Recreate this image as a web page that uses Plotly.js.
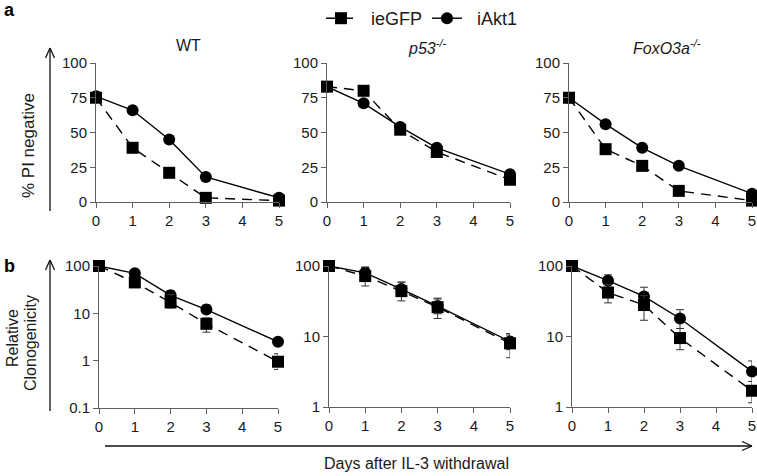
<!DOCTYPE html>
<html>
<head>
<meta charset="utf-8">
<script src="https://cdn.plot.ly/plotly-3.0.1.min.js"></script>
<style>html,body{margin:0;padding:0;background:#fff;}#chart{width:757px;height:476px;}</style>
</head>
<body>
<div id="chart"></div>
<script>
// ---------- data ----------
const days = [0, 1, 2, 3, 4, 5];
const daysObs = [0, 1, 2, 3, 5];
const xTickLabels = ['0', '1', '2', '3', '4', '5'];
const seriesNames = ['ieGFP', 'iAkt1'];
const panelTitles = ['WT', '<i>p53</i><sup><i>-/-</i></sup>', '<i>FoxO3a</i><sup><i>-/-</i></sup>'];

// (a) % PI negative
const piWT_ieGFP = [75, 39, 21, 3, 1];
const piWT_iAkt1 = [76, 66, 45, 18, 3];
const piP53_ieGFP = [83, 80, 52, 36, 16];
const piP53_iAkt1 = [83, 71, 54, 39, 20];
const piFox_ieGFP = [75, 38, 26, 8, 1];
const piFox_iAkt1 = [75, 56, 39, 26, 6];

// (b) Relative clonogenicity (with asymmetric error bars)
const clWT_ieGFP = [100, 45, 17, 6, 0.95];
const clWT_ieGFP_up = [0, 10, 8, 2, 0.45];
const clWT_ieGFP_dn = [0, 10, 4, 2, 0.3];
const clWT_iAkt1 = [100, 70, 24, 12, 2.5];
const clWT_iAkt1_up = [0, 10, 6, 3, 0.3];
const clWT_iAkt1_dn = [0, 10, 5, 2, 0.3];

const clP53_ieGFP = [100, 72, 44, 26, 8];
const clP53_ieGFP_up = [0, 25, 15, 9, 3];
const clP53_ieGFP_dn = [0, 20, 12, 8, 3];
const clP53_iAkt1 = [100, 80, 47, 27, 8.5];
const clP53_iAkt1_up = [0, 15, 12, 7, 2];
const clP53_iAkt1_dn = [0, 15, 10, 6, 2];

const clFox_ieGFP = [100, 42, 28, 9.5, 1.7];
const clFox_ieGFP_up = [0, 13, 10, 3.5, 0.6];
const clFox_ieGFP_dn = [0, 12, 11, 3, 0.55];
const clFox_iAkt1 = [100, 62, 37, 18, 3.2];
const clFox_iAkt1_up = [0, 13, 13, 6, 1.3];
const clFox_iAkt1_dn = [0, 12, 7, 5, 0.9];

const piTicks = [0, 25, 50, 75, 100];
const clTicksWT = [0.1, 1, 10, 100];
const clTicks = [1, 10, 100];

// ---------- layout helpers ----------
const W = 757, H = 476;
const px = x => x / W;
const py = y => 1 - y / H;
const FONT = 'Liberation Sans, Arial, sans-serif';
const AX = '#606060';
const TXT = '#1a1a1a';
const TICKF = {family: FONT, size: 15, color: TXT};
const NB = '\u00a0\u00a0';

const traces = [];
function addPair(xa, ya, g, a, errs, legend) {
  const mk = (yv, name, sym, dash, e) => {
    const t = {
      x: daysObs, y: yv, name: NB + name, xaxis: xa, yaxis: ya,
      type: 'scatter', mode: 'lines+markers', cliponaxis: false,
      line: {color: '#000', width: 1.4, dash: dash},
      marker: {symbol: sym, size: 12, color: '#000'},
      showlegend: legend, legendgroup: name
    };
    if (e) t.error_y = {type: 'data', symmetric: false, array: e[0], arrayminus: e[1], color: '#333', thickness: 1, width: 4};
    return t;
  };
  traces.push(mk(a, seriesNames[1], 'circle', 'solid', errs ? errs[1] : null));
  traces.push(mk(g, seriesNames[0], 'square', '10px,7px', errs ? errs[0] : null));
}
addPair('x', 'y', piWT_ieGFP, piWT_iAkt1, null, true);
addPair('x2', 'y2', piP53_ieGFP, piP53_iAkt1, null, false);
addPair('x3', 'y3', piFox_ieGFP, piFox_iAkt1, null, false);
addPair('x4', 'y4', clWT_ieGFP, clWT_iAkt1, [[clWT_ieGFP_up, clWT_ieGFP_dn], [clWT_iAkt1_up, clWT_iAkt1_dn]], false);
addPair('x5', 'y5', clP53_ieGFP, clP53_iAkt1, [[clP53_ieGFP_up, clP53_ieGFP_dn], [clP53_iAkt1_up, clP53_iAkt1_dn]], false);
addPair('x6', 'y6', clFox_ieGFP, clFox_iAkt1, [[clFox_ieGFP_up, clFox_ieGFP_dn], [clFox_iAkt1_up, clFox_iAkt1_dn]], false);

function xax(x0, x5, anchor) {
  return {domain: [px(x0), px(x5)], range: [0, 5], anchor: anchor, showgrid: false, zeroline: false,
    showline: true, linecolor: AX, linewidth: 1, ticks: 'outside', ticklen: 5, tickcolor: AX,
    tickvals: days, ticktext: xTickLabels, tickfont: TICKF, fixedrange: true};
}
function yaxLin(ytop, ybot, anchor) {
  return {domain: [py(ybot), py(ytop)], range: [0, 100], anchor: anchor, showgrid: false, zeroline: false,
    showline: true, linecolor: AX, linewidth: 1, ticks: 'outside', ticklen: 5, tickcolor: AX,
    tickvals: piTicks, ticktext: piTicks.map(String), tickfont: TICKF, fixedrange: true};
}
function yaxLog(ytop, ybot, anchor, tv) {
  return {domain: [py(ybot), py(ytop)], type: 'log', range: [Math.log10(tv[0]), 2], anchor: anchor, showgrid: false, zeroline: false,
    showline: true, linecolor: AX, linewidth: 1, ticks: 'outside', ticklen: 5, tickcolor: AX,
    tickvals: tv, ticktext: tv.map(String), tickfont: TICKF, fixedrange: true};
}

function seg(x0, y0, x1, y1, w) {
  return {type: 'line', xref: 'paper', yref: 'paper', x0: px(x0), y0: py(y0), x1: px(x1), y1: py(y1),
    line: {color: '#111', width: w || 1.3}};
}
const shapes = [
  seg(50, 211, 50, 48), seg(50, 48, 45.5, 58), seg(50, 48, 54.5, 58),
  seg(50, 411, 50, 260), seg(50, 260, 45.5, 270), seg(50, 260, 54.5, 270),
  seg(105, 446, 752, 446), seg(752, 446, 742, 441.5), seg(752, 446, 742, 450.5)
];

function ann(text, x, y, opts) {
  return Object.assign({text: text, xref: 'paper', yref: 'paper', x: px(x), y: py(y), showarrow: false,
    xanchor: 'center', yanchor: 'middle', font: {family: FONT, size: 16, color: TXT}}, opts || {});
}
const annotations = [
  ann('<b>a</b>', 9, 10, {font: {family: FONT, size: 18, color: '#000'}}),
  ann('<b>b</b>', 9, 266, {font: {family: FONT, size: 18, color: '#000'}}),
  ann(panelTitles[0], 188, 46),
  ann(panelTitles[1], 427, 47),
  ann(panelTitles[2], 667, 47),
  ann('% PI negative', 28, 146, {textangle: -90, font: {family: FONT, size: 17, color: TXT}}),
  ann('Relative', 12, 338, {textangle: -90}),
  ann('Clonogenicity', 30, 343, {textangle: -90}),
  ann('Days after IL-3 withdrawal', 417, 463)
];

const layout = {
  width: W, height: H, margin: {l: 0, r: 0, t: 0, b: 0},
  paper_bgcolor: '#fff', plot_bgcolor: 'rgba(0,0,0,0)',
  font: {family: FONT, size: 15, color: TXT},
  showlegend: true,
  legend: {orientation: 'h', x: px(321), y: py(0), xanchor: 'left', yanchor: 'top',
    itemwidth: 30, font: {family: FONT, size: 18, color: TXT}, bgcolor: 'rgba(0,0,0,0)',
    traceorder: 'reversed', tracegroupgap: 0},
  xaxis: xax(96, 279, 'y'), yaxis: yaxLin(63, 202, 'x'),
  xaxis2: xax(327, 510, 'y2'), yaxis2: yaxLin(63, 202, 'x2'),
  xaxis3: xax(569, 752, 'y3'), yaxis3: yaxLin(63, 202, 'x3'),
  xaxis4: xax(99, 278, 'y4'), yaxis4: yaxLog(266, 408, 'x4', clTicksWT),
  xaxis5: xax(329, 510, 'y5'), yaxis5: yaxLog(266, 407, 'x5', clTicks),
  xaxis6: xax(572, 752, 'y6'), yaxis6: yaxLog(266, 407, 'x6', clTicks),
  shapes: shapes, annotations: annotations
};

Plotly.newPlot('chart', traces, layout, {staticPlot: true, displayModeBar: false});
</script>
</body>
</html>
